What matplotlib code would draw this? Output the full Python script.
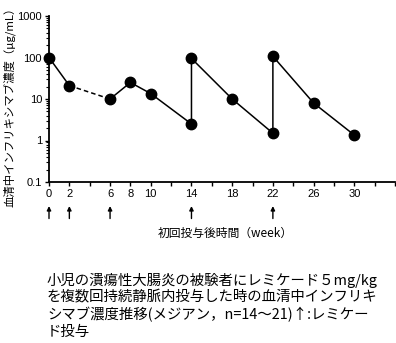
import matplotlib
matplotlib.use("Agg")
import matplotlib.pyplot as plt
from matplotlib.ticker import LogLocator, NullFormatter, FixedLocator

plt.rcParams["font.family"] = ["Noto Sans CJK JP", "DejaVu Sans"]

# 中央値の推移（週, μg/mL）
weeks = [0, 2, 6, 8, 10, 14, 14, 18, 22, 22, 26, 30]
conc = [100, 21, 10, 25, 13.5, 2.5, 95, 10, 1.5, 107, 8, 1.35]
dose_weeks = [0, 2, 6, 14, 22]
xtick_weeks = [0, 2, 6, 8, 10, 14, 18, 22, 26, 30]
ytick_vals = [0.1, 1, 10, 100, 1000]
ytick_labels = ["0.1", "1", "10", "100", "1000"]

ylabel = "血清中インフリキシマブ濃度（μg/mL）"
xlabel = "初回投与後時間（week）"
caption = ("小児の潰瘍性大腸炎の被験者にレミケード５mg/kg\n"
           "を複数回持続静脈内投与した時の血清中インフリキ\n"
           "シマブ濃度推移(メジアン，n=14～21)↑:レミケー\n"
           "ド投与")

W, H = 396, 343
fig = plt.figure(figsize=(W / 100, H / 100), dpi=100)
ax = fig.add_axes([49 / W, 1 - 182 / H, (395 - 49) / W, (182 - 16) / H])

line_kw = dict(color="black", lw=1.1)
ax.plot(weeks[:2], conc[:2], **line_kw)
ax.plot(weeks[1:3], conc[1:3], ls=(0, (3, 2)), **line_kw)
ax.plot(weeks[2:], conc[2:], **line_kw)
ax.plot(weeks, conc, ls="none", marker="o", ms=7.5, color="black",
        zorder=3, clip_on=False)

ax.set_yscale("log")
ax.set_ylim(0.1, 1000)
ax.set_xlim(0, 34)
ax.set_yticks(ytick_vals)
ax.set_yticklabels(ytick_labels, family="Liberation Sans", fontsize=8)
ax.yaxis.set_minor_locator(LogLocator(base=10, subs=range(2, 10)))
ax.yaxis.set_minor_formatter(NullFormatter())
ax.xaxis.set_major_locator(FixedLocator(xtick_weeks))
ax.set_xticklabels([str(w) for w in xtick_weeks], family="Liberation Sans", fontsize=8)
ax.xaxis.set_minor_locator(FixedLocator(range(0, 35, 2)))

for side in ("top", "right"):
    ax.spines[side].set_visible(False)
for side in ("left", "bottom"):
    ax.spines[side].set_linewidth(1.3)
ax.tick_params(axis="both", which="major", length=3, width=1, pad=2)
ax.tick_params(axis="y", which="minor", length=2, width=0.8)
ax.tick_params(axis="x", which="minor", length=3, width=1)

# 投与時点の矢印
for w in dose_weeks:
    ax.annotate("", xy=(w, -0.145), xytext=(w, -0.22),
                xycoords=("data", "axes fraction"),
                textcoords=("data", "axes fraction"),
                arrowprops=dict(arrowstyle="-|>", color="black", lw=1,
                                mutation_scale=6, shrinkA=0, shrinkB=0),
                annotation_clip=False)

fig.text(225 / W, 1 - 233 / H, xlabel, ha="center", va="center", fontsize=8.5)
fig.text(9 / W, 1 - 104 / H, ylabel, ha="center", va="center",
         rotation=90, fontsize=8.2)
fig.text(47 / W, 1 - 306 / H, caption, ha="left", va="center",
         fontsize=10.4, linespacing=1.2)

fig.savefig("out.png", dpi=100)
